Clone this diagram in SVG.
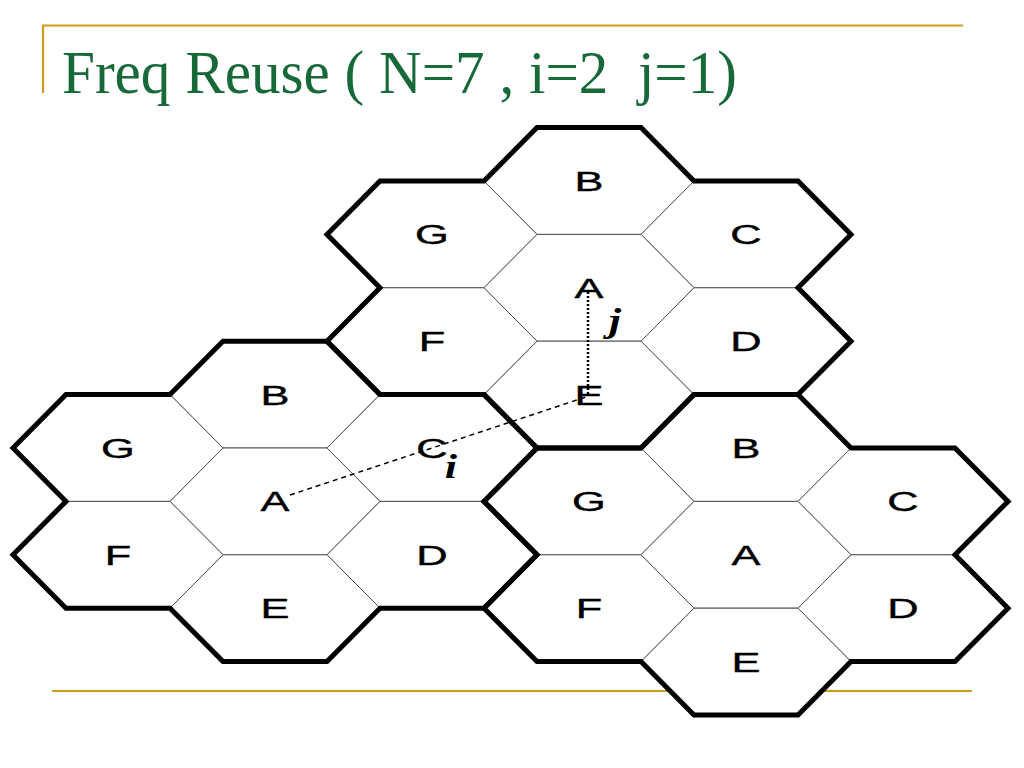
<svg xmlns="http://www.w3.org/2000/svg" xmlns:xlink="http://www.w3.org/1999/xlink" width="1024" height="768" viewBox="0 0 1024 768">
<defs>
<style>
.hex{fill:#fff;stroke:#555;stroke-width:1}
.outline{fill:none;stroke:#000;stroke-width:5;stroke-linejoin:miter;stroke-miterlimit:4}
.lbl{font-family:"Liberation Sans",Arial,sans-serif;font-size:28px;fill:#000;stroke:#000;stroke-width:0.4;text-anchor:middle}
.ij{font-family:"Liberation Serif","Times New Roman",serif;font-style:italic;font-weight:bold;font-size:34px;fill:#000;text-anchor:middle}
.gold{stroke:#cc9c1e;stroke-width:2.2;fill:none}
.title{font-family:"Liberation Serif","Times New Roman",serif;font-size:61px;fill:#17693a}
</style>
<polygon id="hx" points="-52,-53.4 52,-53.4 105,0 52,53.4 -52,53.4 -105,0"/>
<polygon id="cl" points="-52,-160.2 52,-160.2 105,-106.8 209,-106.8 262,-53.4 209,0 262,53.4 209,106.8 105,106.8 52,160.2 -52,160.2 -105,106.8 -209,106.8 -262,53.4 -209,0 -262,-53.4 -209,-106.8 -105,-106.8"/>
</defs>
<rect width="1024" height="768" fill="#fff"/>
<g id="frame">
<path class="gold" d="M42,25.5 H963 M43,25 V93 M52,691 H972"/>
</g>
<text class="title" x="62" y="93" xml:space="preserve" textLength="675" lengthAdjust="spacingAndGlyphs">Freq Reuse ( N=7 , i=2  j=1)</text>

<g id="cluster-top" transform="translate(589,287.8)">
<g id="top-B"><use xlink:href="#hx" class="hex" x="0" y="-106.8"/></g>
<g id="top-G"><use xlink:href="#hx" class="hex" x="-157" y="-53.4"/></g>
<g id="top-C"><use xlink:href="#hx" class="hex" x="157" y="-53.4"/></g>
<g id="top-A"><use xlink:href="#hx" class="hex" x="0" y="0"/></g>
<g id="top-F"><use xlink:href="#hx" class="hex" x="-157" y="53.4"/></g>
<g id="top-D"><use xlink:href="#hx" class="hex" x="157" y="53.4"/></g>
<g id="top-E"><use xlink:href="#hx" class="hex" x="0" y="106.8"/></g>
</g>
<g id="cluster-left" transform="translate(275,501.4)">
<g id="left-B"><use xlink:href="#hx" class="hex" x="0" y="-106.8"/></g>
<g id="left-G"><use xlink:href="#hx" class="hex" x="-157" y="-53.4"/></g>
<g id="left-C"><use xlink:href="#hx" class="hex" x="157" y="-53.4"/></g>
<g id="left-A"><use xlink:href="#hx" class="hex" x="0" y="0"/></g>
<g id="left-F"><use xlink:href="#hx" class="hex" x="-157" y="53.4"/></g>
<g id="left-D"><use xlink:href="#hx" class="hex" x="157" y="53.4"/></g>
<g id="left-E"><use xlink:href="#hx" class="hex" x="0" y="106.8"/></g>
</g>
<g id="cluster-right" transform="translate(746,554.8)">
<g id="right-B"><use xlink:href="#hx" class="hex" x="0" y="-106.8"/></g>
<g id="right-G"><use xlink:href="#hx" class="hex" x="-157" y="-53.4"/></g>
<g id="right-C"><use xlink:href="#hx" class="hex" x="157" y="-53.4"/></g>
<g id="right-A"><use xlink:href="#hx" class="hex" x="0" y="0"/></g>
<g id="right-F"><use xlink:href="#hx" class="hex" x="-157" y="53.4"/></g>
<g id="right-D"><use xlink:href="#hx" class="hex" x="157" y="53.4"/></g>
<g id="right-E"><use xlink:href="#hx" class="hex" x="0" y="106.8"/></g>
</g>
<g id="outlines">
<use xlink:href="#cl" class="outline" x="589" y="287.8"/>
<use xlink:href="#cl" class="outline" x="275" y="501.4"/>
<use xlink:href="#cl" class="outline" x="746" y="554.8"/>
</g>

<g id="labels">
<text class="lbl" transform="translate(589,191) scale(1.55,1)">B</text>
<text class="lbl" transform="translate(432,244.4) scale(1.55,1)">G</text>
<text class="lbl" transform="translate(746,244.4) scale(1.55,1)">C</text>
<text class="lbl" transform="translate(589,297.8) scale(1.55,1)">A</text>
<text class="lbl" transform="translate(432,351.2) scale(1.55,1)">F</text>
<text class="lbl" transform="translate(746,351.2) scale(1.55,1)">D</text>
<text class="lbl" transform="translate(589,404.6) scale(1.55,1)">E</text>

<text class="lbl" transform="translate(275,404.6) scale(1.55,1)">B</text>
<text class="lbl" transform="translate(118,458) scale(1.55,1)">G</text>
<text class="lbl" transform="translate(432,458) scale(1.55,1)">C</text>
<text class="lbl" transform="translate(275,511.4) scale(1.55,1)">A</text>
<text class="lbl" transform="translate(118,564.8) scale(1.55,1)">F</text>
<text class="lbl" transform="translate(432,564.8) scale(1.55,1)">D</text>
<text class="lbl" transform="translate(275,618.2) scale(1.55,1)">E</text>

<text class="lbl" transform="translate(746,458) scale(1.55,1)">B</text>
<text class="lbl" transform="translate(589,511.4) scale(1.55,1)">G</text>
<text class="lbl" transform="translate(903,511.4) scale(1.55,1)">C</text>
<text class="lbl" transform="translate(746,564.8) scale(1.55,1)">A</text>
<text class="lbl" transform="translate(589,618.2) scale(1.55,1)">F</text>
<text class="lbl" transform="translate(903,618.2) scale(1.55,1)">D</text>
<text class="lbl" transform="translate(746,671.6) scale(1.55,1)">E</text>
</g>

<g id="connectors">
<line id="i-line" x1="290" y1="495" x2="586" y2="397" stroke="#000" stroke-width="1.5" stroke-dasharray="5,4"/>
<line id="j-line" x1="588" y1="292" x2="588" y2="395" stroke="#000" stroke-width="2.5" stroke-dasharray="2,2"/>
</g>
<text class="ij" transform="translate(451,478) scale(1.3,1)">i</text>
<text class="ij" transform="translate(615,332) scale(1.3,1)">j</text>
</svg>
